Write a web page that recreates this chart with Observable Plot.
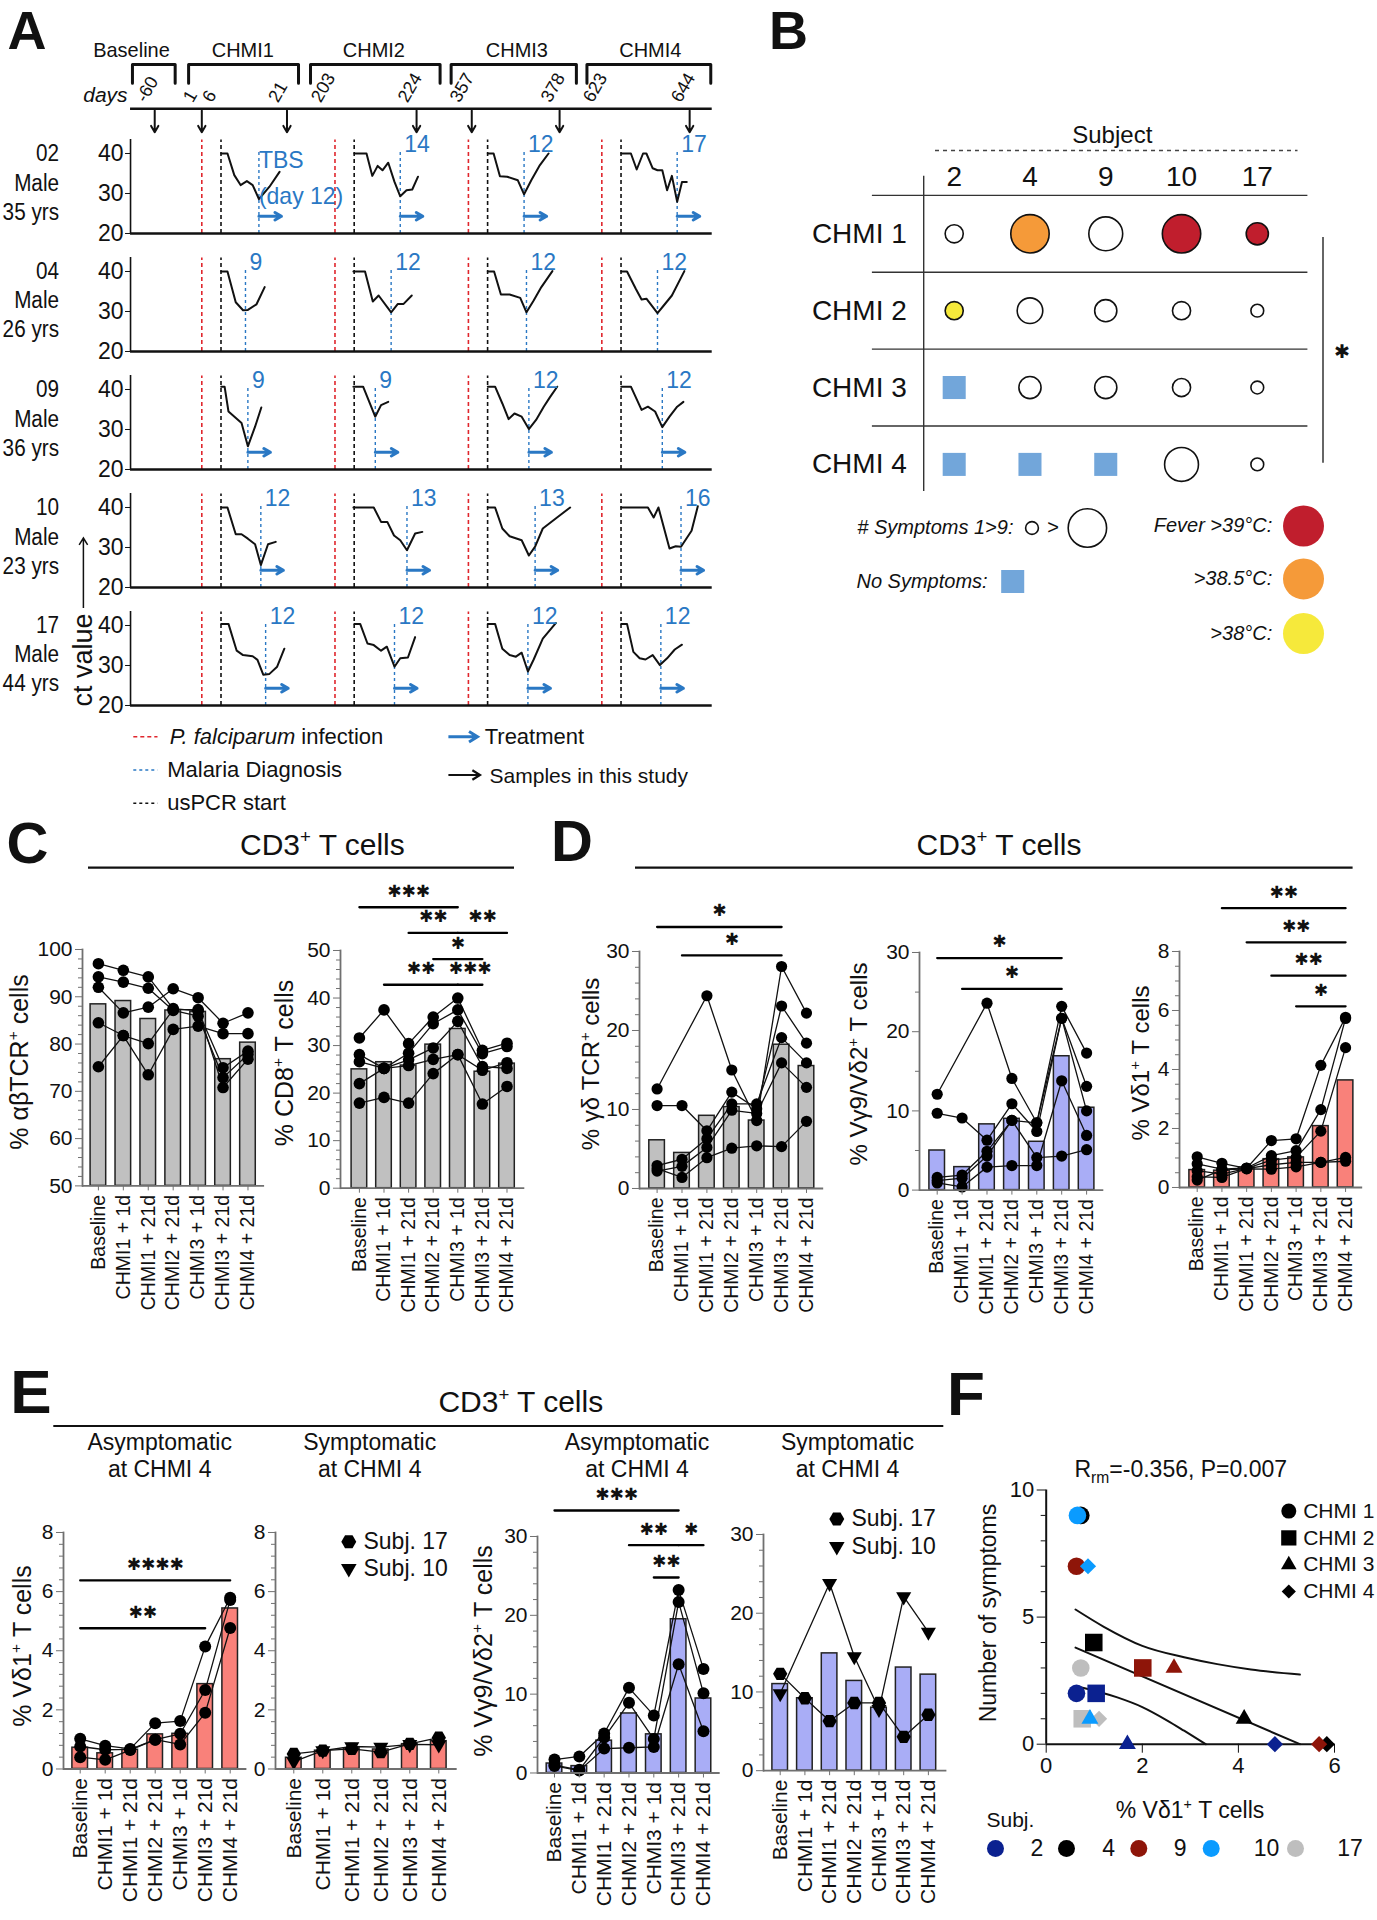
<!DOCTYPE html>
<html>
<head>
<meta charset="utf-8">
<script src="https://cdn.jsdelivr.net/npm/d3@7"></script>
<script src="https://cdn.jsdelivr.net/npm/@observablehq/plot@0.6"></script>
<style>
  html, body { margin:0; padding:0; background:#fff; }
  #fig { position:relative; width:1377px; height:1920px; overflow:hidden; background:#fff;
         font-family:"Liberation Sans", Arial, Helvetica, sans-serif; color:#111; }
  .t { position:absolute; white-space:nowrap; line-height:1; transform-origin:0 0; }
  .sup { font-size:0.62em; position:relative; top:-0.62em; }
  .sub { font-size:0.68em; position:relative; top:0.35em; }
</style>
</head>
<body>
<div id="fig"></div>
<script>
// ================= DATA =================
// ---- Panel A ----
const subjectsA = ["02","04","09","10","17"];
const sexA = ["Male","Male","Male","Male","Male"];
const ageA = ["35 yrs","26 yrs","36 yrs","23 yrs","44 yrs"];
const periodsA = ["Baseline","CHMI1","CHMI2","CHMI3","CHMI4"];
const periodSpanA = [[0.4,9.3],[12.1,35.0],[37.5,64.5],[66.8,92.9],[95.1,120.9]];
const periodLabelAtA = [0.2,23.4,50.7,80.5,108.3];
const dayLabelsA = ["-60","1","6","21","203","224","357","378","623","644"];
const dayLabelAtA = [5.04,14.85,18.85,32.6,41.5,59.6,70.4,89.4,98.2,116.5];
const sampleAtA = [5.04,14.85,32.6,59.6,71.1,89.4,116.5];
const chmiStartA = [14.85,42.6,70.4,98.2];
const usPcrDayA = 4;
const infectionShownA = [[1,1,1,1],[1,1,1,1],[1,1,1,0],[1,1,1,1],[1,1,1,1]];
const treatedA = [1,0,1,1,1];
const diagDayA = [[11.9,13.6,11.6,15.7],[9.1,11.7,12.1,11.6],[9.6,8.4,12.6,12.6],[12.3,15.0,13.9,16.5],[13.3,12.4,12.4,12.3]];
const diagLabelA = [["TBS\n(day 12)","14","12","17"],["9","12","12","12"],["9","9","12","12"],["12","13","13","16"],["12","12","12","12"]];
const ctA = {
 "02": [
  [[4.04,40],[5.35,40],[6.77,34.6],[8.08,32.1],[9.39,33.1],[10.6,32.1],[11.9,28.6],[14.1,31.7],[16.2,35.4]],
  [[4.04,40],[6.57,40],[7.78,34.4],[8.89,36.9],[9.9,35.8],[11.1,37.7],[12.4,32.9],[13.6,29.3],[14.9,30.8],[16.1,31],[17.3,34.2]],
  [[4.04,40],[5.25,40],[6.57,34.3],[8.08,34.2],[10.3,33.3],[11.6,29.8],[13.1,33.3],[14.9,37.1],[16.7,40]],
  [[4.04,40],[6.06,40],[7.27,36],[8.59,40],[9.29,40],[10.6,36.3],[11.6,35.8],[12.6,35.8],[13.6,30.8],[14.6,34.4],[15.7,27.9],[16.7,32.9],[17.7,32.9]]
 ],
 "04": [
  [[4.04,40],[5.35,40],[7.07,32.3],[8.59,30.3],[9.6,30.4],[11.4,31.8],[13.1,36.1]],
  [[3.84,40],[6.26,40],[7.88,32.5],[9.09,34],[11.7,29.8],[13.1,31.9],[14.3,31.9],[16.0,34]],
  [[4.04,40],[5.35,40],[6.77,34.25],[8.59,34.25],[10.8,33.4],[12.1,29.8],[13.6,32.75],[15.2,36.1],[17.5,40.1]],
  [[4.04,40],[5.25,40],[7.07,35.7],[8.28,33],[9.29,33.2],[11.6,29.6],[12.9,31.5],[14.6,34],[17.2,40.1]]
 ],
 "09": [
  [[4.04,40.7],[4.75,40.7],[5.56,34.5],[8.28,31.6],[9.6,25.8],[11.1,30.7],[12.4,35.5]],
  [[3.84,40.7],[5.86,40.7],[7.27,36.5],[8.38,33.2],[9.6,36.1],[11.1,36.9]],
  [[4.04,40.7],[5.56,40.7],[7.07,36.5],[8.38,32.6],[9.6,34],[11.1,33.2],[12.6,30.1],[14.1,32.4],[15.7,35.7],[17.0,38.1],[18.5,40.7]],
  [[4.04,40.7],[6.06,40.7],[8.28,34.9],[9.6,35.7],[11.1,34.5],[12.6,30.6],[14.1,33.2],[15.7,35.7],[17.0,36.9]]
 ],
 "10": [
  [[4.04,40],[5.35,40],[7.07,33.3],[8.28,33.3],[9.6,32.2],[11.1,30.8],[12.3,25.6],[13.8,30.8],[15.4,31.4]],
  [[3.84,40],[8.08,40],[9.6,36.4],[10.9,36.4],[12.3,33],[13.6,31.8],[15.0,29.3],[16.7,33.5],[18.2,33.9]],
  [[4.04,40],[5.56,40],[7.07,34.75],[8.59,32.8],[11.1,31.8],[12.6,28],[13.9,30.2],[15.5,34.75],[18.2,37.25],[21.2,40]],
  [[4.04,40],[9.6,40],[10.8,37.5],[11.8,40],[14.1,29.75],[15.4,30.3],[16.5,30.2],[18.7,34.2],[20,40.3]]
 ],
 "17": [
  [[4.04,40.4],[5.56,40.4],[7.27,33.7],[8.59,32.6],[10.6,32.3],[11.6,31.4],[12.8,27.7],[14.1,27.9],[15.7,29.7],[17.2,34.2]],
  [[4.04,40.4],[5.25,40.4],[6.77,35.5],[8.08,35.1],[9.6,33.7],[10.8,34.7],[12.4,29.7],[13.6,31.8],[15.2,32],[16.7,37.1]],
  [[4.04,40.4],[5.56,40.4],[7.07,34.2],[8.59,32.6],[9.9,32.2],[11.1,33.2],[12.4,28.5],[13.6,31.5],[15.5,36.7],[18.2,40.6]],
  [[4.04,40.4],[5.25,40.4],[6.57,33.4],[7.88,31.8],[9.09,31.5],[10.6,32.6],[12.1,30.1],[13.6,31.8],[15.2,34],[16.7,35.2]]
 ]
};

// ---- Panel B ----
const subjectsB = ["2","4","9","10","17"];
const chmiB = ["CHMI 1","CHMI 2","CHMI 3","CHMI 4"];
const symptomsB = [[2,9,7,9,3],[2,4,3,2,1],[0,3,3,2,1],[0,0,0,7,1]];
const feverB = [["","38.5","","39","39"],["38","","","",""],["","","","",""],["","","","",""]];
const feverLevelsB = ["39","38.5","38"];
const feverLabelsB = ["Fever >39°C:",">38.5°C:",">38°C:"];
const feverColorsB = {"39":"#c01e2d","38.5":"#f59a39","38":"#f6e93b"};

// ---- Panels C, D, E ----
const catsT = ["Baseline","CHMI1 + 1d","CHMI1 + 21d","CHMI2 + 21d","CHMI3 + 1d","CHMI3 + 21d","CHMI4 + 21d"];
const catsSym = ["Baseline","CHMI1 + 1d","CHMI1 + 21d","CHMI2 + 21d","CHMI3 + 21d","CHMI4 + 21d"];

const abTcrBars = [88.4,89.1,85.3,87.1,86.8,76.8,80.3];
const abTcrSubj = [
  [97.0,95.6,94.2,87.5,87.0,75.0,78.5],
  [94.2,93.1,91.8,87.1,85.9,72.9,77.8],
  [92.0,86.6,87.8,91.7,89.8,84.4,86.6],
  [84.5,81.8,73.5,83.1,83.8,82.2,82.2],
  [75.2,81.8,80.1,87.3,87.3,70.8,76.8]
];
const cd8Bars = [25.0,26.5,25.8,30.2,33.5,24.5,26.2];
const cd8Subj = [
  [31.6,37.5,30.4,36.0,40.0,29.0,30.5],
  [28.1,25.2,28.4,34.6,37.5,28.3,29.8],
  [26.6,25.2,27.0,29.5,35.1,25.6,25.2],
  [22.0,25.2,25.8,27.1,28.1,17.7,21.4],
  [17.9,19.1,17.9,24.1,28.1,24.8,26.4]
];
const cd8Sig = [[0,4,59.1,"***"],[2,4,53.7,"**"],[4,6,53.7,"**"],[3,5,48.2,"*"],[1,4,42.8,"**"],[4,5,42.8,"***"]];

const gdBars = [6.1,4.5,9.2,10.3,8.6,18.2,15.5];
const gdSubj = [
  [12.6,null,24.4,15.0,8.6,28.1,22.2],
  [10.5,10.5,7.3,12.2,10.1,23.1,18.4],
  [2.9,3.7,6.3,10.7,10.7,19.1,15.9],
  [2.2,2.8,5.2,9.9,9.5,15.9,12.8],
  [2.5,1.4,3.9,5.1,5.4,5.3,8.5]
];
const gdSig = [[0,5,33.1,"*"],[1,5,29.5,"*"]];

const vg9Bars = [5.0,2.9,8.3,9.0,6.1,16.9,10.4];
const vg9Subj = [
  [12.1,null,23.6,14.1,8.5,23.2,17.3],
  [9.7,9.1,6.3,10.9,7.4,21.7,13.1],
  [1.6,1.9,4.9,8.8,8.5,21.7,10.0],
  [0.9,0.4,2.9,3.1,3.1,13.8,6.9],
  [1.2,1.5,4.3,8.8,4.1,4.3,5.1]
];
const vg9Sig = [[0,5,29.3,"*"],[1,5,25.4,"*"]];

const vd1Bars = [0.59,0.57,0.68,0.96,1.02,2.08,3.63];
const vd1Subj = [
  [1.04,0.82,0.65,1.59,1.65,4.14,5.77],
  [0.80,0.62,0.66,1.08,1.25,2.64,5.73],
  [0.57,0.45,0.65,0.93,1.02,1.91,4.74],
  [0.36,0.34,0.64,0.77,0.85,0.85,1.02],
  [0.25,0.60,0.63,0.62,0.70,0.85,0.89]
];
const vd1Sig = [[1,6,9.47,"**"],[2,6,8.31,"**"],[3,6,7.18,"**"],[4,6,6.14,"*"]];

const asymVd1Bars = [0.72,0.53,0.65,1.17,1.19,2.87,5.43];
const asymVd1Subj = [
  [1.02,0.79,0.68,1.55,1.62,4.14,5.79],
  [0.76,0.65,0.66,0.99,1.19,2.67,5.72],
  [0.40,0.31,0.64,0.99,0.83,1.90,4.77]
];
const asymVd1Sig = [[0,6,6.38,"****"],[0,5,4.76,"**"]];
const symVd1Bars = [0.38,0.62,0.70,0.66,0.84,0.94];
const symVd1Subj17 = [0.51,0.62,0.68,0.57,0.85,1.06];
const symVd1Subj10 = [0.25,0.62,0.76,0.74,0.83,0.82];

const asymVg9Bars = [1.2,0.87,4.1,7.55,4.9,19.5,9.45];
const asymVg9Subj = [
  [1.7,2.1,5.0,10.8,7.3,23.2,13.2],
  [1.0,0.4,4.5,8.9,4.3,21.7,10.1],
  [0.9,0.3,3.1,3.2,3.3,13.8,5.3]
];
const asymVg9Sig = [[0,5,33.3,"***"],[3,5,28.9,"**"],[5,6,28.9,"*"],[4,5,24.8,"**"]];
const symVg9Bars = [11.0,9.2,14.9,11.4,8.0,13.1,12.2];
const symVg9Subj17 = [12.3,9.2,6.3,8.6,8.6,4.3,7.1];
const symVg9Subj10 = [9.8,null,23.8,14.5,7.8,22.1,17.6];

// ---- Panel F ----
const subjF = ["2","4","9","10","17"];
const subjColorsF = ["#0b2190","#000000","#8e1509","#0a9bff","#bebebe"];
const chmiF = ["CHMI 1","CHMI 2","CHMI 3","CHMI 4"];
const drawOrderF = ["2","4","9","17","10"];
const pointsF = [ // [subject, CHMI, % Vd1, number of symptoms]
  ["2","CHMI 1",0.63,2],["4","CHMI 1",0.72,9],["9","CHMI 1",0.63,7],["17","CHMI 1",0.72,3],["10","CHMI 1",0.65,9],
  ["2","CHMI 2",1.04,2],["4","CHMI 2",0.99,4],["9","CHMI 2",2.01,3],["17","CHMI 2",0.75,1],
  ["2","CHMI 3",1.69,0],["4","CHMI 3",4.12,1],["9","CHMI 3",2.66,3],["10","CHMI 3",0.91,1],
  ["2","CHMI 4",4.76,0],["4","CHMI 4",5.84,0],["9","CHMI 4",5.68,0],["17","CHMI 4",1.1,1],["10","CHMI 4",0.87,7]
];
const fitF = [[0.61,3.8],[5.28,0]];
const ciUpperF = [[0.61,5.3],[1.2,4.62],[2.0,3.87],[2.87,3.42],[3.56,3.15],[4.26,2.94],[5.28,2.74]];
const ciLowerF = [[0.61,2.29],[1.48,1.84],[2.0,1.46],[2.52,0.93],[2.87,0.53],[3.32,0]];

// ================= DRAWING =================
const fig = document.getElementById("fig");
const FONT = '"Liberation Sans", Arial, Helvetica, sans-serif';
const STARFONT = '"DejaVu Sans", "Liberation Sans", sans-serif';
const BLUE = "#2a78c4", RED = "#e0262d", AX = "#707070", INK = "#111";
const GRAY = "#c0c0c0", LAV = "#a9adf6", SALMON = "#f9817a", NOSYM = "#72a6da";
const baseStyle = {fontFamily: FONT, fontSize: "20px", background: "none", overflow: "visible", color: INK};

function put(el, left, top) {
  el.style.position = "absolute";
  el.style.left = left + "px";
  el.style.top = top + "px";
  el.style.overflow = "visible";
  el.style.background = "none";
  el.style.maxWidth = "none";
  fig.appendChild(el);
  return el;
}
function txt(html, x, y, o = {}) {
  const d = document.createElement("div");
  d.className = "t";
  d.innerHTML = html;
  d.style.left = x + "px";
  d.style.top = y + "px";
  d.style.fontSize = (o.size || 20) + "px";
  if (o.lh) d.style.lineHeight = o.lh;
  if (o.weight) d.style.fontWeight = o.weight;
  if (o.italic) d.style.fontStyle = "italic";
  if (o.color) d.style.color = o.color;
  const a = o.anchor || "middle";
  const tx = a === "start" ? "0%" : a === "end" ? "-100%" : "-50%";
  d.style.transform = `rotate(${o.rotate || 0}deg) scaleX(${o.sx || 1}) translate(${tx}, -50%)`;
  fig.appendChild(d);
  return d;
}
function arrowPath(x1, y1, x2, y2, len = 8, ang = 30) {
  const a = Math.atan2(y2 - y1, x2 - x1), r = ang * Math.PI / 180;
  return `M${x1},${y1}L${x2},${y2}M${x2 - len * Math.cos(a - r)},${y2 - len * Math.sin(a - r)}L${x2},${y2}L${x2 - len * Math.cos(a + r)},${y2 - len * Math.sin(a + r)}`;
}

// overlay for decorative strokes (title rules, legend glyphs)
const ov = d3.create("svg").attr("width", 1377).attr("height", 1920)
  .style("position", "absolute").style("left", "0px").style("top", "0px").style("overflow", "visible");
fig.appendChild(ov.node());
function ovLine(x1, y1, x2, y2, stroke, w, dash) {
  const l = ov.append("line").attr("x1", x1).attr("y1", y1).attr("x2", x2).attr("y2", y2)
    .attr("stroke", stroke).attr("stroke-width", w);
  if (dash) l.attr("stroke-dasharray", dash);
}
function ovArrow(x1, y1, x2, y2, stroke, w, len) {
  ov.append("path").attr("d", arrowPath(x1, y1, x2, y2, len, 32)).attr("fill", "none")
    .attr("stroke", stroke).attr("stroke-width", w).attr("stroke-linecap", "butt");
}

// ---------- Panel letters ----------
[["A",27,31,54],["B",788.5,31,54],["C",27.5,842.5,58],["D",572,841,58],["E",31,1392,62],["F",966,1394,62]]
  .forEach(([l, x, y, s]) => txt(l, x, y, {size: s, weight: "bold", lh: 0.8}));

// ---------- Panel A ----------
const A_LEFT = 129.9, A_PPD = 4.8, A_END = 121.2, A_ML = 50;
const xA = {domain: [0, A_END], range: [A_ML, A_ML + A_END * A_PPD], axis: null};
const rowCt40Y = [153.3, 271, 389.3, 507.3, 625];

{
  const brPts = [];
  periodSpanA.forEach(([a, b], i) => brPts.push({p: i, x: a, y: 52.7}, {p: i, x: a, y: 34}, {p: i, x: b, y: 34}, {p: i, x: b, y: 52.7}));
  const hdr = Plot.plot({
    width: A_ML + A_END * A_PPD + 10, height: 110, marginLeft: A_ML, marginRight: 10, marginTop: 0, marginBottom: 0,
    x: xA, y: {domain: [0, 110], range: [0, 110], axis: null}, style: baseStyle,
    marks: [
      Plot.line(brPts, {x: "x", y: "y", z: "p", stroke: INK, strokeWidth: 3}),
      Plot.text(periodsA, {x: (d, i) => periodLabelAtA[i], y: 20, text: d => d, fontSize: 20}),
      Plot.text(["days"], {x: 0, y: 71.7, text: d => d, dx: -3, textAnchor: "end", lineAnchor: "bottom", fontStyle: "italic", fontSize: 21}),
      Plot.text(dayLabelsA, {x: (d, i) => dayLabelAtA[i], y: 73, text: d => d, rotate: -60, textAnchor: "start", lineAnchor: "bottom", dx: -9, fontSize: 18}),
      Plot.ruleY([78.3], {x1: 0, x2: A_END, stroke: INK, strokeWidth: 2.6}),
      Plot.arrow(sampleAtA, {x1: d => d, x2: d => d, y1: 80, y2: 101.7, stroke: INK, strokeWidth: 2, headLength: 8})
    ]
  });
  put(hdr, A_LEFT - A_ML, 30);
}

subjectsA.forEach((id, si) => {
  const curves = [];
  ctA[id].forEach((pts, k) => pts.forEach(([d, c]) => curves.push({k, x: chmiStartA[k] + d, ct: c})));
  const diag = diagDayA[si].map((d, k) => ({k, x: chmiStartA[k] + d, label: diagLabelA[si][k]}));
  const inf = chmiStartA.map((s, k) => ({k, x: s})).filter(d => infectionShownA[si][d.k]);
  const pcr = chmiStartA.map((s, k) => ({k, x: s + usPcrDayA}));
  const marks = [
    Plot.ruleX(inf, {x: "x", y1: 20, y2: 43.4, stroke: RED, strokeWidth: 1.6, strokeDasharray: "4,3"}),
    Plot.ruleX(pcr, {x: "x", y1: 20, y2: 43.4, stroke: INK, strokeWidth: 1.6, strokeDasharray: "4,3"}),
    Plot.ruleX(diag, {x: "x", y1: 20, y2: 41, stroke: BLUE, strokeWidth: 1.4, strokeDasharray: "3,3"}),
    Plot.ruleX([0], {y1: 20, y2: 43.5, stroke: INK, strokeWidth: 1.6}),
    Plot.ruleY([20], {x1: 0, x2: A_END, stroke: INK, strokeWidth: 2.6}),
    Plot.axisY({ticks: [20, 30, 40], tickSize: 5, tickPadding: 2, fontSize: 23, label: null}),
    Plot.line(curves, {x: "x", y: "ct", z: "k", stroke: INK, strokeWidth: 2}),
    Plot.text(diag.filter(d => !d.label.includes("\n")), {x: "x", y: 42.3, text: "label", dx: 4, textAnchor: "start", fill: BLUE, fontSize: 23}),
    Plot.text(diag.filter(d => d.label.includes("\n")), {x: "x", y: 34.8, text: "label", textAnchor: "start", fill: BLUE, fontSize: 23, lineHeight: 1.6})
  ];
  if (treatedA[si]) marks.push(Plot.arrow(diag, {x1: "x", x2: d => d.x + 4.7, y1: 24.3, y2: 24.3, stroke: BLUE, strokeWidth: 3, headLength: 9}));
  const p = Plot.plot({
    width: A_ML + A_END * A_PPD + 10, height: 110, marginLeft: A_ML, marginRight: 10, marginTop: 0, marginBottom: 6,
    x: xA, y: {domain: [20, 46], range: [104, 0]}, style: baseStyle, marks
  });
  put(p, A_LEFT - A_ML, rowCt40Y[si] - 24);
  txt(id, 59.1, rowCt40Y[si], {size: 23, anchor: "end", sx: 0.9});
  txt(sexA[si], 58.5, rowCt40Y[si] + 29.4, {size: 23, anchor: "end", sx: 0.9});
  txt(ageA[si], 59.1, rowCt40Y[si] + 58.4, {size: 23, anchor: "end", sx: 0.9});
});
txt("ct value", 83.4, 660, {size: 27, rotate: -90});
ovArrow(83.4, 608, 83.4, 538, INK, 1.5, 8);
// legend A
ovLine(133.3, 736.7, 157.5, 736.7, RED, 1.6, "4,3");
txt("<i>P. falciparum</i> infection", 169.7, 736.7, {size: 22, anchor: "start"});
ovLine(133.3, 770, 157.5, 770, BLUE, 1.6, "3,3");
txt("Malaria Diagnosis", 167.2, 770, {size: 22, anchor: "start"});
ovLine(133.3, 803.3, 157.5, 803.3, INK, 1.6, "3,3");
txt("usPCR start", 167.2, 803.3, {size: 22, anchor: "start"});
ovArrow(448.4, 736.7, 477.5, 736.7, BLUE, 3, 10);
txt("Treatment", 484.7, 736.7, {size: 22, anchor: "start"});
ovArrow(448.4, 775, 480, 775, INK, 2.2, 9);
txt("Samples in this study", 489.6, 775, {size: 21, anchor: "start"});

// ---------- Panel B ----------
{
  const B_LEFT = 800, B_TOP = 90;
  const bx = px => (px - 953.7) / 75.775, by = py => 1 + (py - 233.3) / 76.867;
  const symRecs = [], noneRecs = [];
  chmiB.forEach((c, ri) => subjectsB.forEach((s, ci) => {
    const rec = {col: ci, row: ri + 1, n: symptomsB[ri][ci], f: feverB[ri][ci]};
    (rec.n > 0 ? symRecs : noneRecs).push(rec);
  }));
  const legY = [525.5, 578.4, 633];
  const pB = Plot.plot({
    width: 577, height: 580, margin: 0,
    x: {domain: [0, 4], range: [953.7 - B_LEFT, 1256.8 - B_LEFT], axis: null},
    y: {domain: [1, 4], range: [233.3 - B_TOP, 463.9 - B_TOP], axis: null},
    r: {type: "sqrt", domain: [0, 9], range: [0, 19.2]},
    style: baseStyle,
    marks: [
      Plot.ruleY(chmiB.map((c, i) => i + 0.5), {x1: bx(871.9), x2: bx(1307.4), stroke: "#333", strokeWidth: 1.4}),
      Plot.ruleX([bx(923.2)], {y1: by(175.7), y2: by(491), stroke: "#333", strokeWidth: 1.4}),
      Plot.ruleY([by(150)], {x1: bx(935), x2: bx(1297.5), stroke: "#444", strokeWidth: 1.3, strokeDasharray: "4,4"}),
      Plot.text(["Subject"], {x: bx(1111.8), y: by(135), text: d => d, fontSize: 24}),
      Plot.text(subjectsB, {x: (d, i) => i, y: by(176.5), text: d => d, fontSize: 28}),
      Plot.text(chmiB, {x: bx(811.4), y: (d, i) => i + 1, text: d => d, textAnchor: "start", fontSize: 28}),
      Plot.dot(symRecs, {x: "col", y: "row", r: "n", fill: d => feverColorsB[d.f] || "#fff", stroke: INK, strokeWidth: 1.6}),
      Plot.dot(noneRecs, {x: "col", y: "row", symbol: "square", r: 13, fill: NOSYM}),
      Plot.ruleX([bx(1322.5)], {y1: by(237), y2: by(462.7), stroke: "#333", strokeWidth: 1.5}),
      Plot.text(["✱"], {x: bx(1341.8), y: by(351), text: d => d, fontFamily: STARFONT, fontSize: 19, lineAnchor: "middle"}),
      // legend
      Plot.text(["# Symptoms 1>9:"], {x: bx(856.8), y: by(527.5), text: d => d, textAnchor: "start", fontStyle: "italic", fontSize: 20}),
      Plot.dot([1, 9], {x: (d, i) => i ? bx(1086.9) : bx(1031.5), y: by(527.5), r: d => d, fill: "#fff", stroke: INK, strokeWidth: 1.6}),
      Plot.text([">"], {x: bx(1052.5), y: by(527.5), text: d => d, fontSize: 20}),
      Plot.text(["No Symptoms:"], {x: bx(856), y: by(581), text: d => d, textAnchor: "start", fontStyle: "italic", fontSize: 20}),
      Plot.dot([0], {x: bx(1012.2), y: by(581), symbol: "square", r: 13, fill: NOSYM}),
      Plot.text(feverLabelsB, {x: bx(1271.8), y: (d, i) => by(legY[i]), text: d => d, textAnchor: "end", fontStyle: "italic", fontSize: 20}),
      Plot.dot(feverLevelsB, {x: bx(1303), y: (d, i) => by(legY[i]), r: 20.5, fill: d => feverColorsB[d]})
    ]
  });
  put(pB, B_LEFT, B_TOP);
}

// ---------- bar chart builder (C, D, E) ----------
const hexSym = {draw(ctx, size) {
  const R = Math.sqrt(size / (1.5 * Math.sqrt(3)));
  for (let i = 0; i < 6; i++) { const a = Math.PI / 3 * i; const x = R * Math.cos(a), y = R * Math.sin(a); i ? ctx.lineTo(x, y) : ctx.moveTo(x, y); }
  ctx.closePath();
}};
const triDownSym = {draw(ctx, size) {
  const s = Math.sqrt(size * 4 / Math.sqrt(3)), h = s * Math.sqrt(3) / 2;
  ctx.moveTo(-s / 2, -h / 3); ctx.lineTo(s / 2, -h / 3); ctx.lineTo(0, 2 * h / 3); ctx.closePath();
}};

function barChart(o) {
  const mL = 70, mR = 12, mT = 110, mB = 175;
  const plotW = o.endX - o.axisX, plotH = o.zeroY - o.topY;
  const cats = o.cats, n = cats.length, bw = 15.6;
  const r0 = mL + (o.c0 - o.axisX) - o.step / 2;
  const [lo, hi] = o.domain;
  const nm = Math.round((hi - lo) / o.minor);
  const minors = d3.range(nm + 1).map(i => +(lo + i * o.minor).toFixed(4)).filter(v => !o.majors.includes(v));
  const bars = cats.map((c, i) => ({cat: c, v: o.bars[i]}));
  const pts = [];
  o.series.forEach((s, si) => s.values.forEach((v, i) => { if (v != null) pts.push({cat: cats[i], v, s: si}); }));
  const marks = [
    Plot.barY(bars, {x: "cat", y1: lo, y2: "v", fill: o.fill, stroke: "#222", strokeWidth: 1.5}),
    Plot.line(pts, {x: "cat", y: "v", z: "s", stroke: INK, strokeWidth: 1.3})
  ];
  o.series.forEach((s, si) => marks.push(Plot.dot(pts.filter(d => d.s === si), {x: "cat", y: "v", r: s.r || o.dotR, fill: "#000", symbol: s.symbol || "circle"})));
  marks.push(
    Plot.ruleY([lo], {stroke: AX, strokeWidth: 1.8}),
    Plot.frame({anchor: "left", stroke: AX, strokeWidth: 1.8}),
    Plot.axisY({ticks: o.majors, tickSize: 7, tickPadding: 3, fontSize: 21, label: null, stroke: AX}),
    Plot.axisY({ticks: minors, tickSize: 4, tickFormat: () => "", label: null, stroke: AX}),
    Plot.axisX({tickRotate: -90, tickSize: 5, tickPadding: 4, fontSize: o.catFont || 19.5, label: null, stroke: AX})
  );
  (o.sig || []).forEach(([a, b, y, l]) => {
    marks.push(Plot.line([{cat: cats[a], y}, {cat: cats[b], y}], {x: "cat", y: "y", stroke: "#000", strokeWidth: 2.3}));
    marks.push(Plot.text([{cat: cats[a], y, l: l.replace(/\*/g, "✱")}], {x: "cat", y: "y", text: "l", dx: (b - a) * o.step / 2, dy: -16,
      lineAnchor: "middle", fontFamily: STARFONT, fontSize: 17}));
  });
  (o.legend || []).forEach(l => {
    marks.push(Plot.dot([0], {frameAnchor: "top-left", dx: l.dx, dy: l.dy, symbol: l.symbol, r: l.r, fill: "#000"}));
    marks.push(Plot.text([l.text], {frameAnchor: "top-left", dx: l.tx, dy: l.dy, text: d => d, textAnchor: "start", lineAnchor: "middle", fontSize: 23}));
  });
  const p = Plot.plot({
    width: mL + plotW + mR, height: mT + plotH + mB,
    marginLeft: mL, marginRight: mR, marginTop: mT, marginBottom: mB,
    x: {type: "band", domain: cats, range: [r0, r0 + n * o.step], paddingInner: 1 - bw / o.step, paddingOuter: (1 - bw / o.step) / 2, round: false},
    y: {domain: o.domain, range: [mT + plotH, mT]},
    style: baseStyle, marks
  });
  put(p, o.axisX - mL, o.topY - mT);
}
const S = arr => arr.map(v => ({values: v}));

// ---------- Panel C ----------
barChart({axisX: 81.7, topY: 949.3, zeroY: 1185.7, endX: 263.8, c0: 97.6, step: 24.93, domain: [50, 100], majors: [50, 60, 70, 80, 90, 100], minor: 2,
  cats: catsT, bars: abTcrBars, series: S(abTcrSubj), fill: GRAY, dotR: 5.8});
barChart({axisX: 339.7, topY: 950, zeroY: 1187.7, endX: 524, c0: 358.6, step: 24.6, domain: [0, 50], majors: [0, 10, 20, 30, 40, 50], minor: 2,
  cats: catsT, bars: cd8Bars, series: S(cd8Subj), fill: GRAY, dotR: 5.8, sig: cd8Sig});
txt("CD3<span class='sup'>+</span> T cells", 322.4, 845, {size: 30});
ovLine(88, 867.7, 514, 867.7, INK, 2.2);
txt("% αβTCR<span class='sup'>+</span> cells", 19, 1062, {size: 25, rotate: -90});
txt("% CD8<span class='sup'>+</span> T cells", 283.6, 1063, {size: 25, rotate: -90});

// ---------- Panel D ----------
barChart({axisX: 638.8, topY: 950.7, zeroY: 1187.7, endX: 823, c0: 656.4, step: 24.9, domain: [0, 30], majors: [0, 10, 20, 30], minor: 2,
  cats: catsT, bars: gdBars, series: S(gdSubj), fill: GRAY, dotR: 5.6, sig: gdSig});
barChart({axisX: 919, topY: 951.7, zeroY: 1189.3, endX: 1103.3, c0: 936.7, step: 24.9, domain: [0, 30], majors: [0, 10, 20, 30], minor: 5,
  cats: catsT, bars: vg9Bars, series: S(vg9Subj), fill: LAV, dotR: 5.6, sig: vg9Sig});
barChart({axisX: 1179, topY: 950.7, zeroY: 1186.7, endX: 1362.2, c0: 1196.7, step: 24.73, domain: [0, 8], majors: [0, 2, 4, 6, 8], minor: 0.5,
  cats: catsT, bars: vd1Bars, series: S(vd1Subj), fill: SALMON, dotR: 5.6, sig: vd1Sig});
txt("CD3<span class='sup'>+</span> T cells", 999, 845, {size: 30});
ovLine(635, 867.7, 1352.6, 867.7, INK, 2.2);
txt("% γδ TCR<span class='sup'>+</span> cells", 590.7, 1064, {size: 24, rotate: -90});
txt("% Vγ9/Vδ2<span class='sup'>+</span> T cells", 859.3, 1064, {size: 24, rotate: -90});
txt("% Vδ1<span class='sup'>+</span> T cells", 1140.6, 1063, {size: 24, rotate: -90});

// ---------- Panel E ----------
const legE = (dy1, dy2) => [
  {text: "Subj. 17", symbol: hexSym, r: 6.8, dx: 73.3, tx: 88, dy: dy1},
  {text: "Subj. 10", symbol: triDownSym, r: 5.8, dx: 73.3, tx: 88, dy: dy2}
];
barChart({axisX: 63.3, topY: 1532.4, zeroY: 1768.9, endX: 246.7, c0: 80, step: 25, domain: [0, 8], majors: [0, 2, 4, 6, 8], minor: 0.4,
  cats: catsT, bars: asymVd1Bars, series: S(asymVd1Subj), fill: SALMON, dotR: 6, sig: asymVd1Sig, catFont: 21});
barChart({axisX: 275, topY: 1532.4, zeroY: 1768.9, endX: 456.7, c0: 293.3, step: 29, domain: [0, 8], majors: [0, 2, 4, 6, 8], minor: 0.4,
  cats: catsSym, bars: symVd1Bars, fill: SALMON, catFont: 21,
  series: [{values: symVd1Subj17, symbol: hexSym, r: 6.5}, {values: symVd1Subj10, symbol: triDownSym, r: 5.6}],
  legend: legE(9.3, 35.9)});
barChart({axisX: 537.3, topY: 1536.2, zeroY: 1772.7, endX: 720, c0: 554.3, step: 24.83, domain: [0, 30], majors: [0, 10, 20, 30], minor: 2,
  cats: catsT, bars: asymVg9Bars, series: S(asymVg9Subj), fill: LAV, dotR: 6, sig: asymVg9Sig, catFont: 21});
barChart({axisX: 763.3, topY: 1533.5, zeroY: 1769.7, endX: 946.7, c0: 780, step: 24.7, domain: [0, 30], majors: [0, 10, 20, 30], minor: 2,
  cats: catsT, bars: symVg9Bars, fill: LAV, catFont: 21,
  series: [{values: symVg9Subj17, symbol: hexSym, r: 6.5}, {values: symVg9Subj10, symbol: triDownSym, r: 5.6}],
  legend: legE(-15.5, 12)});
txt("CD3<span class='sup'>+</span> T cells", 520.8, 1402.3, {size: 30});
ovLine(53.3, 1426, 943.3, 1426, INK, 2.2);
[[159.7, "Asymptomatic"], [369.7, "Symptomatic"], [637, "Asymptomatic"], [847.5, "Symptomatic"]].forEach(([x, t]) => {
  txt(t, x, 1441.7, {size: 23});
  txt("at CHMI 4", x, 1469.3, {size: 23});
});
txt("% Vδ1<span class='sup'>+</span> T cells", 21.7, 1646, {size: 25, rotate: -90});
txt("% Vγ9/Vδ2<span class='sup'>+</span> T cells", 482.5, 1651, {size: 25, rotate: -90});

// ---------- Panel F ----------
{
  const F_LEFT = 950, F_TOP = 1440;
  const mL = 95.7, mR = 43, mT = 49.5, H = 440, mB = H - 303.7;
  const symF = {"CHMI 1": ["circle", 8.8], "CHMI 2": ["square", 9.9], "CHMI 3": ["triangle", 6.3], "CHMI 4": ["diamond2", 7.3]};
  const legSymF = {"CHMI 1": ["circle", 7.5], "CHMI 2": ["square", 8.6], "CHMI 3": ["triangle", 5.8], "CHMI 4": ["diamond2", 6.4]};
  const colorOf = s => subjColorsF[subjF.indexOf(s)];
  const ordered = [];
  drawOrderF.forEach(s => pointsF.filter(p => p[0] === s).forEach(p => ordered.push(p)));
  const marks = [
    Plot.line(ciUpperF, {x: d => d[0], y: d => d[1], curve: "monotone-x", stroke: INK, strokeWidth: 2}),
    Plot.line(ciLowerF, {x: d => d[0], y: d => d[1], curve: "monotone-x", stroke: INK, strokeWidth: 2}),
    Plot.line(fitF, {x: d => d[0], y: d => d[1], stroke: INK, strokeWidth: 2}),
    Plot.ruleX([0], {y1: 0, y2: 10, stroke: INK, strokeWidth: 2}),
    Plot.ruleY([0], {x1: 0, x2: 6, stroke: INK, strokeWidth: 2}),
    Plot.axisY({ticks: [0, 5, 10], tickSize: 9, tickPadding: 3, fontSize: 22, label: null, tickFormat: d => String(d)}),
    Plot.axisY({ticks: [1, 2, 3, 4, 6, 7, 8, 9], tickSize: 5, tickFormat: () => "", label: null}),
    Plot.axisX({ticks: [0, 2, 4, 6], tickSize: 9, tickPadding: 4, fontSize: 22, label: null, tickFormat: d => String(d)})
  ];
  ordered.forEach(p => marks.push(Plot.dot([p], {x: d => d[2], y: d => d[3], symbol: symF[p[1]][0], r: symF[p[1]][1], fill: colorOf(p[0])})));
  chmiF.forEach((c, i) => {
    marks.push(Plot.dot([c], {frameAnchor: "top-right", dx: -45.7, dy: 21.1 + 26.8 * i, symbol: legSymF[c][0], r: legSymF[c][1], fill: "#000"}));
    marks.push(Plot.text([c], {frameAnchor: "top-right", dx: -31.3, dy: 21.1 + 26.8 * i, text: d => d, textAnchor: "start", lineAnchor: "middle", fontSize: 21}));
  });
  marks.push(Plot.text(["Subj."], {frameAnchor: "bottom-left", dx: -59.7, dy: 75.7, text: d => d, textAnchor: "start", lineAnchor: "middle", fontSize: 21}));
  const cdx = [-50.7, 20.3, 92.6, 165, 249.3], ldx = [-15.7, 56, 127.6, 207.6, 291];
  subjF.forEach((s, i) => {
    marks.push(Plot.dot([s], {frameAnchor: "bottom-left", dx: cdx[i], dy: 104.4, r: 8.5, fill: subjColorsF[i]}));
    marks.push(Plot.text([s], {frameAnchor: "bottom-left", dx: ldx[i], dy: 104.4, text: d => d, lineAnchor: "middle", fontSize: 23}));
  });
  const pF = Plot.plot({
    width: 427, height: H, marginLeft: mL, marginRight: mR, marginTop: mT, marginBottom: mB,
    x: {domain: [0, 6], range: [mL, 427 - mR]},
    y: {domain: [0, 10], range: [H - mB, mT]},
    style: baseStyle, marks
  });
  put(pF, F_LEFT, F_TOP);
  txt("R<span class='sub'>rm</span>=-0.356, P=0.007", 1180.8, 1469.3, {size: 23});
  txt("Number of symptoms", 988.3, 1612.8, {size: 23, rotate: -90});
  txt("% Vδ1<span class='sup'>+</span> T cells", 1190, 1809.9, {size: 23});
}
</script>
</body>
</html>
